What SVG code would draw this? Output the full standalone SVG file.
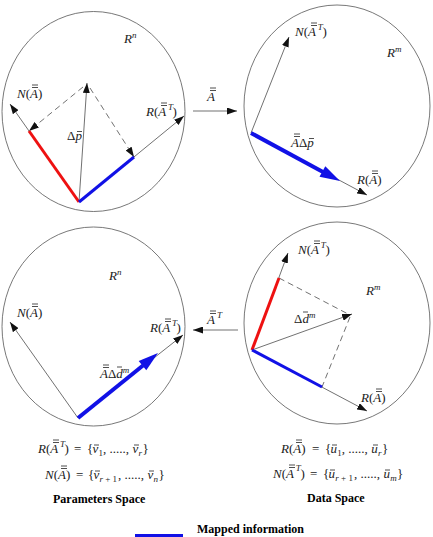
<svg xmlns="http://www.w3.org/2000/svg" width="433" height="537" viewBox="0 0 433 537">
<style>
text{font-family:"Liberation Serif","Times New Roman",serif;fill:#222;}
.l{font-size:13px;font-style:italic;}
.s{font-size:9px;font-style:italic;}
.u{font-style:normal;}
.b{font-size:12px;font-weight:bold;fill:#000;}
.space{fill:none;stroke:#555;stroke-width:0.8;}
.thin{stroke:#333;stroke-width:0.7;fill:none;}
.dash{stroke:#333;stroke-width:0.7;fill:none;stroke-dasharray:6 4;}
.red{stroke:#ee1111;stroke-width:3;fill:none;}
.blue{stroke:#1111e6;stroke-width:3;fill:none;}
.bhead{fill:#1111e6;}
.bar{stroke:#222;stroke-width:0.8;}
</style>
<defs>
<marker id="ah" viewBox="0 0 10 7" refX="10" refY="3.5" markerWidth="10" markerHeight="7" markerUnits="userSpaceOnUse" orient="auto"><path d="M0,0 L10,3.5 L0,7 z" fill="#111"/></marker>
</defs>

<g id="param-space-top">
<ellipse class="space" cx="93.5" cy="111.5" rx="91.5" ry="100"/>
<line class="thin" x1="79" y1="202" x2="10" y2="104" marker-end="url(#ah)"/>
<line class="thin" x1="79" y1="202" x2="184" y2="116" marker-end="url(#ah)"/>
<line class="thin" x1="79" y1="202" x2="87" y2="83" marker-end="url(#ah)"/>
<line class="dash" x1="83" y1="87" x2="29" y2="131" marker-end="url(#ah)"/>
<line class="dash" x1="90" y1="88" x2="134" y2="157" marker-end="url(#ah)"/>
<line class="red" x1="79" y1="202" x2="29" y2="131"/>
<line class="blue" x1="79" y1="202" x2="134" y2="157"/>
<text class="l" x="124" y="43">R<tspan class="s" dy="-5">n</tspan></text>
<text class="l" x="17" y="98">N<tspan class="u">(</tspan>A<tspan class="u">)</tspan></text>
<line class="bar" x1="32" y1="87.5" x2="38" y2="87.5"/><line class="bar" x1="32" y1="85" x2="38" y2="85"/>
<text class="l" x="146" y="116">R<tspan class="u">(</tspan>A<tspan class="s" x="168" y="110">T</tspan><tspan class="u" x="172.5" y="116">)</tspan></text>
<line class="bar" x1="161" y1="105.5" x2="167" y2="105.5"/><line class="bar" x1="161" y1="103" x2="167" y2="103"/>
<text class="l" x="67" y="140"><tspan class="u">Δ</tspan>p</text>
<line class="bar" x1="77" y1="131.5" x2="82" y2="131.5"/>
</g>

<g id="data-space-top">
<ellipse class="space" cx="337" cy="106" rx="93" ry="101"/>
<line class="thin" x1="251" y1="133" x2="289" y2="37" marker-end="url(#ah)"/>
<line class="thin" x1="251" y1="133" x2="367" y2="195" marker-end="url(#ah)"/>
<line class="blue" x1="251" y1="133" x2="323" y2="172" style="stroke-width:4"/>
<polygon class="bhead" points="340,181 319.5,176.8 325.3,166.2"/>
<text class="l" x="295" y="36">N<tspan class="u">(</tspan>A<tspan class="s" x="317.8" y="30">T</tspan><tspan class="u" x="322.5" y="36">)</tspan></text>
<line class="bar" x1="311" y1="25.5" x2="317" y2="25.5"/><line class="bar" x1="311" y1="23" x2="317" y2="23"/>
<text class="l" x="387" y="57">R<tspan class="s" dy="-5">m</tspan></text>
<text class="l" x="291" y="147">A<tspan class="u">Δ</tspan>p</text>
<line class="bar" x1="294" y1="136.5" x2="300" y2="136.5"/><line class="bar" x1="294" y1="134" x2="300" y2="134"/>
<line class="bar" x1="309" y1="138.5" x2="314" y2="138.5"/>
<text class="l" x="357" y="184">R<tspan class="u">(</tspan>A<tspan class="u">)</tspan></text>
<line class="bar" x1="372" y1="173.5" x2="378" y2="173.5"/><line class="bar" x1="372" y1="171" x2="378" y2="171"/>
</g>

<g id="param-space-bottom">
<ellipse class="space" cx="93.5" cy="326.5" rx="91.5" ry="99.5"/>
<line class="thin" x1="78" y1="418" x2="10" y2="322" marker-end="url(#ah)"/>
<line class="thin" x1="78" y1="418" x2="183" y2="335" marker-end="url(#ah)"/>
<line class="blue" x1="78" y1="418" x2="143" y2="365.5" style="stroke-width:4"/>
<polygon class="bhead" points="158,353 146.3,370.3 138.7,360.9"/>
<text class="l" x="109" y="280">R<tspan class="s" dy="-5">n</tspan></text>
<text class="l" x="17" y="317">N<tspan class="u">(</tspan>A<tspan class="u">)</tspan></text>
<line class="bar" x1="32" y1="306.5" x2="38" y2="306.5"/><line class="bar" x1="32" y1="304" x2="38" y2="304"/>
<text class="l" x="150" y="332">R<tspan class="u">(</tspan>A<tspan class="s" x="172" y="326">T</tspan><tspan class="u" x="176.5" y="332">)</tspan></text>
<line class="bar" x1="165" y1="321.5" x2="171" y2="321.5"/><line class="bar" x1="165" y1="319" x2="171" y2="319"/>
<text class="l" x="100" y="378">A<tspan class="u">Δ</tspan>d<tspan class="s" dy="-5">m</tspan></text>
<line class="bar" x1="103" y1="367.5" x2="109" y2="367.5"/><line class="bar" x1="103" y1="365" x2="109" y2="365"/>
<line class="bar" x1="117" y1="367" x2="122" y2="367"/>
</g>

<g id="data-space-bottom">
<ellipse class="space" cx="337" cy="323" rx="93" ry="101"/>
<line class="thin" x1="252" y1="350" x2="288" y2="253" marker-end="url(#ah)"/>
<line class="thin" x1="252" y1="350" x2="367" y2="411" marker-end="url(#ah)"/>
<line class="thin" x1="252" y1="350" x2="352" y2="314" marker-end="url(#ah)"/>
<line class="dash" x1="279" y1="278" x2="350" y2="315"/>
<line class="dash" x1="350" y1="317" x2="322" y2="387"/>
<line class="red" x1="252" y1="350" x2="279" y2="278"/>
<line class="blue" x1="252" y1="350" x2="322" y2="387"/>
<text class="l" x="298" y="254">N<tspan class="u">(</tspan>A<tspan class="s" x="320.8" y="248">T</tspan><tspan class="u" x="325.5" y="254">)</tspan></text>
<line class="bar" x1="314" y1="243.5" x2="320" y2="243.5"/><line class="bar" x1="314" y1="241" x2="320" y2="241"/>
<text class="l" x="366" y="295">R<tspan class="s" dy="-5">m</tspan></text>
<text class="l" x="294" y="323"><tspan class="u">Δ</tspan>d<tspan class="s" dy="-5">m</tspan></text>
<line class="bar" x1="303" y1="312" x2="308" y2="312"/>
<text class="l" x="361" y="402">R<tspan class="u">(</tspan>A<tspan class="u">)</tspan></text>
<line class="bar" x1="376" y1="391.5" x2="382" y2="391.5"/><line class="bar" x1="376" y1="389" x2="382" y2="389"/>
</g>

<g id="connectors">
<line class="thin" x1="193" y1="111" x2="237" y2="111" marker-end="url(#ah)"/>
<text class="l" x="207" y="101">A</text>
<line class="bar" x1="210" y1="90.5" x2="216" y2="90.5"/><line class="bar" x1="210" y1="88" x2="216" y2="88"/>
<line class="thin" x1="238" y1="330" x2="193" y2="330" marker-end="url(#ah)"/>
<text class="l" x="207" y="324">A<tspan class="s" x="217" y="318">T</tspan></text>
<line class="bar" x1="210" y1="313.5" x2="216" y2="313.5"/><line class="bar" x1="210" y1="311" x2="216" y2="311"/>
</g>

<g id="param-basis">
<text class="l" y="453"><tspan x="38">R</tspan><tspan class="u">(</tspan>A<tspan class="s" x="60" y="447">T</tspan><tspan class="u" x="64.5" y="453">)</tspan><tspan class="u" x="74">=</tspan><tspan class="u" x="87">{</tspan><tspan x="92.5">v</tspan><tspan class="s u" x="98.5" y="456">1</tspan><tspan class="u" x="103" y="453">, .....,</tspan><tspan x="132.5">v</tspan><tspan class="s" x="138.5" y="456">r</tspan><tspan class="u" x="142.5" y="453">}</tspan></text>
<line class="bar" x1="53" y1="442.5" x2="59" y2="442.5"/><line class="bar" x1="53" y1="440" x2="59" y2="440"/>
<line class="bar" x1="94" y1="445" x2="99" y2="445"/><line class="bar" x1="134" y1="445" x2="139" y2="445"/>
<text class="l" y="479"><tspan x="45">N</tspan><tspan class="u">(</tspan>A<tspan class="u">)</tspan><tspan class="u" x="76">=</tspan><tspan class="u" x="88">{</tspan><tspan x="93.5">v</tspan><tspan class="s" x="99.5" y="482">r <tspan class="u">+ 1</tspan></tspan><tspan class="u" x="118" y="479">, .....,</tspan><tspan x="147.5">v</tspan><tspan class="s" x="153.5" y="482">n</tspan><tspan class="u" x="158.5" y="479">}</tspan></text>
<line class="bar" x1="61" y1="468.5" x2="67" y2="468.5"/><line class="bar" x1="61" y1="466" x2="67" y2="466"/>
<line class="bar" x1="95" y1="471" x2="100" y2="471"/><line class="bar" x1="149" y1="471" x2="154" y2="471"/>
<text class="b" x="53" y="503">Parameters Space</text>
</g>

<g id="data-basis">
<text class="l" y="453"><tspan x="281">R</tspan><tspan class="u">(</tspan>A<tspan class="u">)</tspan><tspan class="u" x="312">=</tspan><tspan class="u" x="325">{</tspan><tspan x="330.5">u</tspan><tspan class="s u" x="337.3" y="456">1</tspan><tspan class="u" x="341.8" y="453">, .....,</tspan><tspan x="371.3">u</tspan><tspan class="s" x="378" y="456">r</tspan><tspan class="u" x="382" y="453">}</tspan></text>
<line class="bar" x1="296" y1="442.5" x2="302" y2="442.5"/><line class="bar" x1="296" y1="440" x2="302" y2="440"/>
<line class="bar" x1="332" y1="445" x2="337" y2="445"/><line class="bar" x1="373" y1="445" x2="378" y2="445"/>
<text class="l" y="478"><tspan x="273">N</tspan><tspan class="u">(</tspan>A<tspan class="s" x="295.8" y="471">T</tspan><tspan class="u" x="300.5" y="478">)</tspan><tspan class="u" x="310">=</tspan><tspan class="u" x="323">{</tspan><tspan x="328.5">u</tspan><tspan class="s" x="335.3" y="481">r <tspan class="u">+ 1</tspan></tspan><tspan class="u" x="354" y="478">, .....,</tspan><tspan x="383.5">u</tspan><tspan class="s" x="390.3" y="481">m</tspan><tspan class="u" x="397" y="478">}</tspan></text>
<line class="bar" x1="289" y1="467.5" x2="295" y2="467.5"/><line class="bar" x1="289" y1="465" x2="295" y2="465"/>
<line class="bar" x1="330" y1="470" x2="335" y2="470"/><line class="bar" x1="385" y1="470" x2="390" y2="470"/>
<text class="b" x="307" y="502">Data Space</text>
</g>

<g id="legend">
<line class="blue" x1="135" y1="535.5" x2="183" y2="535.5"/>
<text class="b" x="197" y="533">Mapped information</text>
</g>
</svg>
